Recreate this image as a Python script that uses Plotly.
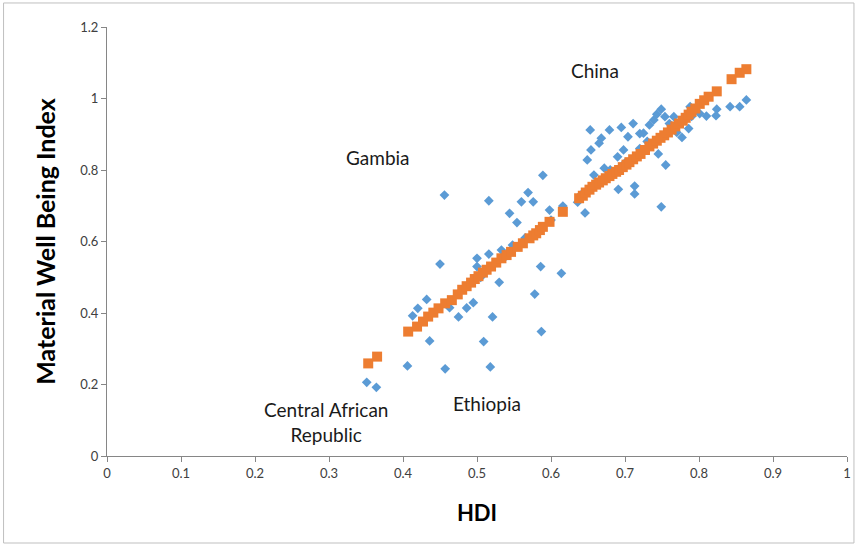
import plotly.graph_objects as go

# Actual Material Well Being Index (blue diamonds)
hdi_actual = [0.351, 0.364, 0.406, 0.413, 0.420, 0.432, 0.436, 0.450, 0.456, 0.457,
              0.463, 0.475, 0.486, 0.495, 0.500, 0.500, 0.509, 0.516, 0.516, 0.518,
              0.521, 0.530, 0.533, 0.544, 0.554, 0.560, 0.569, 0.576, 0.578, 0.586,
              0.587, 0.589, 0.598, 0.614, 0.616, 0.636, 0.646, 0.649, 0.653, 0.654,
              0.658, 0.665, 0.668, 0.672, 0.679, 0.690, 0.691, 0.695, 0.698, 0.704,
              0.711, 0.713, 0.713, 0.720, 0.725, 0.733, 0.739, 0.743, 0.749, 0.749,
              0.745, 0.754, 0.755, 0.766, 0.777, 0.786, 0.788, 0.801, 0.810, 0.824,
              0.823, 0.842, 0.855, 0.864, 0.540, 0.548, 0.505, 0.565, 0.640, 0.700,
              0.730, 0.760, 0.680, 0.720, 0.770, 0.790, 0.600]
mwbi_actual = [0.206, 0.192, 0.252, 0.392, 0.413, 0.438, 0.322, 0.537, 0.730, 0.244,
               0.415, 0.389, 0.414, 0.429, 0.530, 0.553, 0.320, 0.565, 0.714, 0.249,
               0.389, 0.486, 0.576, 0.679, 0.653, 0.711, 0.737, 0.711, 0.453, 0.530,
               0.348, 0.785, 0.688, 0.511, 0.699, 0.710, 0.680, 0.828, 0.912, 0.856,
               0.786, 0.875, 0.889, 0.805, 0.912, 0.837, 0.746, 0.919, 0.856, 0.893,
               0.930, 0.755, 0.733, 0.902, 0.903, 0.926, 0.940, 0.956, 0.970, 0.697,
               0.845, 0.949, 0.814, 0.949, 0.891, 0.916, 0.977, 0.958, 0.951, 0.970,
               0.952, 0.977, 0.977, 0.996, 0.560, 0.590, 0.500, 0.610, 0.730, 0.820,
               0.880, 0.930, 0.800, 0.860, 0.905, 0.950, 0.660]

# Predicted Material Well Being Index (orange squares)
hdi_pred = [0.353, 0.365, 0.407, 0.419, 0.427, 0.434, 0.441, 0.448, 0.457, 0.466,
            0.474, 0.480, 0.486, 0.492, 0.497, 0.502, 0.508, 0.513, 0.519, 0.526,
            0.533, 0.540, 0.546, 0.555, 0.562, 0.571, 0.576, 0.580, 0.585, 0.589,
            0.598, 0.616, 0.638, 0.643, 0.647, 0.652, 0.656, 0.661, 0.665, 0.670,
            0.674, 0.679, 0.683, 0.688, 0.692, 0.697, 0.702, 0.706, 0.711, 0.716,
            0.721, 0.727, 0.733, 0.738, 0.743, 0.748, 0.753, 0.758, 0.763, 0.768,
            0.773, 0.778, 0.782, 0.786, 0.790, 0.795, 0.801, 0.807, 0.813, 0.824,
            0.844, 0.855, 0.864]
mwbi_pred = [0.259, 0.278, 0.348, 0.362, 0.376, 0.390, 0.401, 0.413, 0.427, 0.436,
             0.452, 0.465, 0.475, 0.485, 0.495, 0.503, 0.513, 0.521, 0.530, 0.541,
             0.553, 0.562, 0.571, 0.585, 0.595, 0.609, 0.617, 0.623, 0.632, 0.641,
             0.655, 0.683, 0.721, 0.728, 0.737, 0.745, 0.753, 0.759, 0.765, 0.771,
             0.777, 0.783, 0.789, 0.795, 0.800, 0.808, 0.815, 0.822, 0.830, 0.838,
             0.845, 0.856, 0.866, 0.874, 0.882, 0.890, 0.897, 0.905, 0.913, 0.922,
             0.930, 0.938, 0.946, 0.955, 0.963, 0.972, 0.985, 0.995, 1.005, 1.020,
             1.054, 1.072, 1.082]

labels = ["China", "Gambia", "Ethiopia", "Central African<br>Republic"]
label_x = [0.660, 0.366, 0.513, 0.296]
label_y = [1.077, 0.836, 0.148, 0.095]

x_ticks = [0, 0.1, 0.2, 0.3, 0.4, 0.5, 0.6, 0.7, 0.8, 0.9, 1]
y_ticks = [0, 0.2, 0.4, 0.6, 0.8, 1, 1.2]

fig = go.Figure()
fig.add_trace(go.Scatter(
    x=hdi_actual, y=mwbi_actual, mode="markers", name="Actual",
    marker=dict(symbol="diamond", size=7.5, color="#5B9BD5", line=dict(width=0)),
))
fig.add_trace(go.Scatter(
    x=hdi_pred, y=mwbi_pred, mode="markers", name="Predicted",
    marker=dict(symbol="square", size=10, color="#ED7D31", line=dict(width=0)),
))

for t, lx, ly in zip(labels, label_x, label_y):
    fig.add_annotation(x=lx, y=ly, text=t, showarrow=False,
                       font=dict(family="Lato, Open Sans, sans-serif", size=19, color="#1a1a1a"))

axis_common = dict(
    showgrid=False, zeroline=False, showline=True, linecolor="#868686", linewidth=1,
    ticks="outside", ticklen=5, tickcolor="#868686",
    tickfont=dict(family="Lato, Open Sans, sans-serif", size=13, color="#404040"),
)

fig.update_layout(
    width=862, height=546,
    margin=dict(l=107, r=11, t=27, b=90),
    paper_bgcolor="white", plot_bgcolor="white",
    showlegend=False,
    xaxis=dict(range=[0, 1], tickvals=x_ticks, ticktext=[f"{v:g}" for v in x_ticks],
               title=dict(text="<b>HDI</b>", standoff=26,
                          font=dict(family="Lato, Open Sans, sans-serif", size=22, color="black")),
               **axis_common),
    yaxis=dict(range=[0, 1.2], tickvals=y_ticks, ticktext=[f"{v:g}" for v in y_ticks],
               title=dict(text="<b>Material Well Being Index</b>", standoff=17,
                          font=dict(family="Lato, Open Sans, sans-serif", size=25, color="black")),
               **axis_common),
    shapes=[dict(type="rect", xref="paper", yref="paper",
                 x0=-0.1398, x1=1.0094, y0=-0.2028, y1=1.056,
                 line=dict(color="#BFBFBF", width=1), fillcolor="rgba(0,0,0,0)", layer="below")],
)

fig.write_html("out.html")
